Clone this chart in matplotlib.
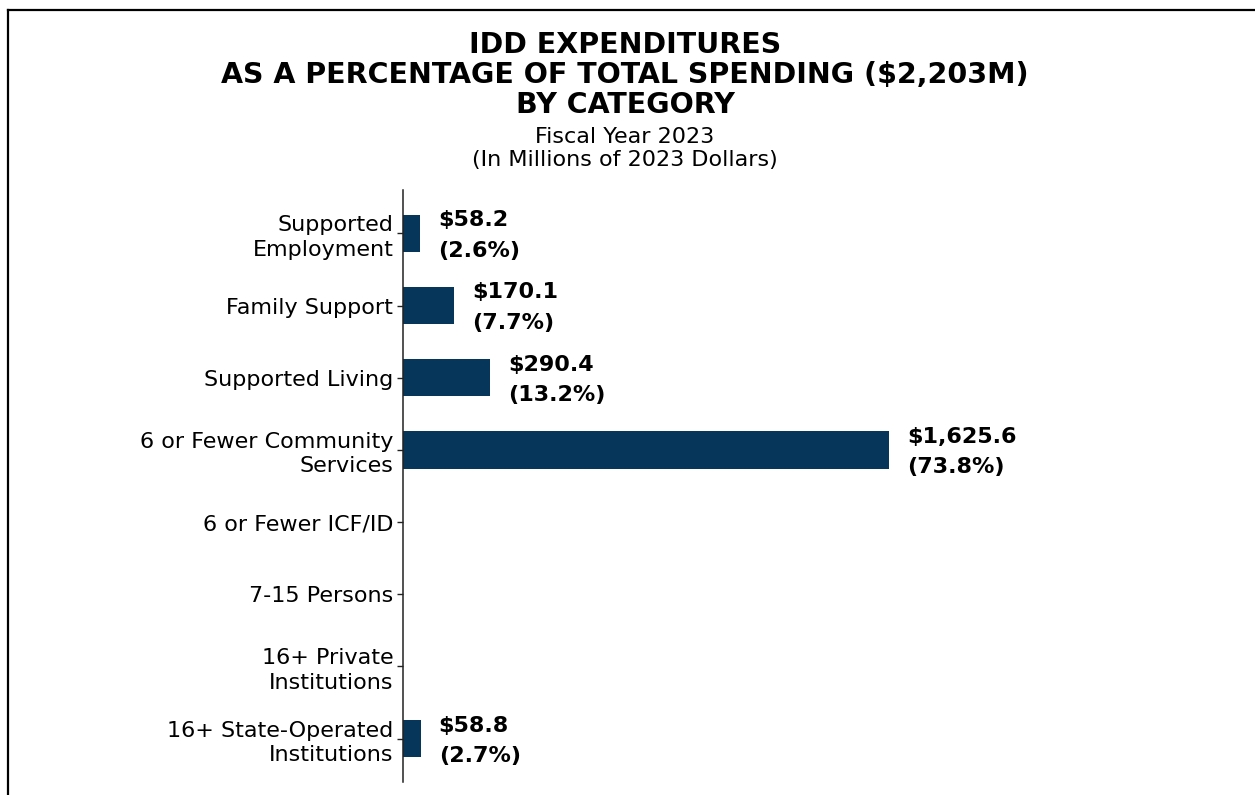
import matplotlib.pyplot as plt
from matplotlib.lines import Line2D

# the reference text is wide, DejaVu Sans gets closest to it
plt.rcParams["font.family"] = ["DejaVu Sans"]

categories = [
    "Supported\nEmployment",
    "Family Support",
    "Supported Living",
    "6 or Fewer Community\nServices",
    "6 or Fewer ICF/ID",
    "7-15 Persons",
    "16+ Private\nInstitutions",
    "16+ State-Operated\nInstitutions",
]
values = [58.2, 170.1, 290.4, 1625.6, 0.0, 0.0, 0.0, 58.8]
shares = [2.6, 7.7, 13.2, 73.8, 0.0, 0.0, 0.0, 2.7]

BAR = "#06365A"
W, H = 1255, 795

fig = plt.figure(figsize=(W / 100, H / 100), dpi=100)
# axes placed in pixel terms: spine at x=403, y from 190 to 782
left, right, top, bottom = 403, 1150, 190, 782
ax = fig.add_axes([left / W, 1 - bottom / H, (right - left) / W, (bottom - top) / H])

y = list(range(len(categories)))
ax.barh(y, values, height=0.52, color=BAR)
ax.set_ylim(len(categories) - 0.4, -0.6)
px_per_unit = 486 / 1625.6
ax.set_xlim(0, (right - left) / px_per_unit)

for i, (v, s) in enumerate(zip(values, shares)):
    if v <= 0:
        continue
    ax.annotate(
        f"${v:,.1f}\n({s:.1f}%)",
        (v, i),
        xytext=(13, -1.5),
        textcoords="offset points",
        ha="left",
        va="center",
        fontsize=16,
        fontweight="bold",
        linespacing=1.65,
    )

ax.set_yticks(y)
ax.set_yticklabels(categories, fontsize=16, linespacing=1.28)
ax.tick_params(axis="y", length=4, width=1, pad=3, color="#222222")
ax.set_xticks([])
for side in ("top", "right", "bottom"):
    ax.spines[side].set_visible(False)
ax.spines["left"].set_linewidth(1.1)
ax.spines["left"].set_color("#222222")

cx = 625 / W
title_lines = ["IDD EXPENDITURES", "AS A PERCENTAGE OF TOTAL SPENDING ($2,203M)", "BY CATEGORY"]
for ty, line in zip([45, 75, 105], title_lines):
    fig.text(cx, 1 - ty / H, line, ha="center", va="center", fontsize=20.5, fontweight="bold")
fig.text(cx, 1 - 137 / H, "Fiscal Year 2023", ha="center", va="center", fontsize=16)
fig.text(cx, 1 - 160 / H, "(In Millions of 2023 Dollars)", ha="center", va="center",
         fontsize=16)

# page frame
fig.add_artist(Line2D([7.5 / W, 7.5 / W], [0, 1 - 10 / H], color="black", linewidth=1.6,
                      transform=fig.transFigure))
fig.add_artist(Line2D([7.5 / W, 1], [1 - 10 / H, 1 - 10 / H], color="black", linewidth=1.6,
                      transform=fig.transFigure))

fig.savefig("out.png", dpi=100)
